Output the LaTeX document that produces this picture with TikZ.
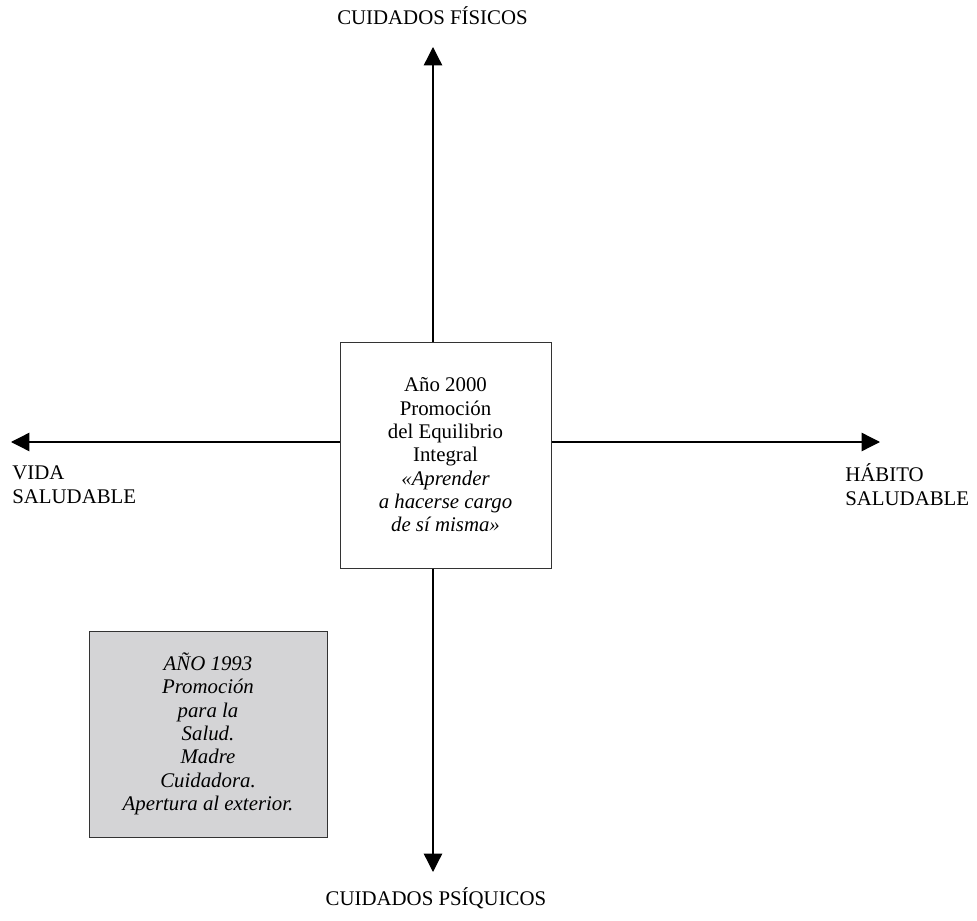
\documentclass[tikz,border=0pt]{standalone}
\usepackage{fontspec}
\setmainfont{Liberation Serif}
\usetikzlibrary{arrows.meta}
\definecolor{cajagris}{RGB}{212,212,214}

\begin{document}
\begin{tikzpicture}[x=0.6pt, y=-0.6pt,
    font=\fontsize{12.5}{14}\selectfont,
    caja/.style ={rectangle, draw=black!80, line width=0.6pt, align=center, inner sep=0pt},
    eje/.style ={line width=0.8pt, -{Triangle[length=11pt, width=11pt]}},
    rotulo/.style ={inner sep=0pt, align=left}]
   \useasboundingbox (0,0) rectangle (977,921);
   \node[caja, minimum width=126.6pt, minimum height=135.6pt] (centro) at (445.5,455)
      {Año 2000\\Promoción\\del Equilibrio\\Integral\\
       \itshape «Aprender\\\itshape a hacerse cargo\\\itshape de sí misma»};
   \node[caja, fill=cajagris, minimum width=142.8pt, minimum height=123.6pt] (anterior) at (208,734)
      {\itshape AÑO 1993\\\itshape Promoción\\\itshape para la\\\itshape Salud.\\
       \itshape Madre\\\itshape Cuidadora.\\\itshape Apertura al exterior.};
   \coordinate (arriba) at (433,47);
   \coordinate (abajo) at (433,872);
   \coordinate (izquierda) at (11,442);
   \coordinate (derecha) at (880,442);
   \draw[eje] (centro.north -| arriba) to (arriba);
   \draw[eje] (centro.south -| abajo) to (abajo);
   \draw[eje] (centro.west |- izquierda) to (izquierda);
   \draw[eje] (centro.east |- derecha) to (derecha);
   \node[rotulo, anchor=base] (fisicos) at (432.5,25) {CUIDADOS FÍSICOS};
   \node[rotulo, anchor=base] (psiquicos) at (436,905) {CUIDADOS PSÍQUICOS};
   \node[rotulo, anchor=base west] (vida) at (12,503) {VIDA\\SALUDABLE};
   \node[rotulo, anchor=base west] (habito) at (845,505) {HÁBITO\\SALUDABLE};
 \end{tikzpicture}
\end{document}
